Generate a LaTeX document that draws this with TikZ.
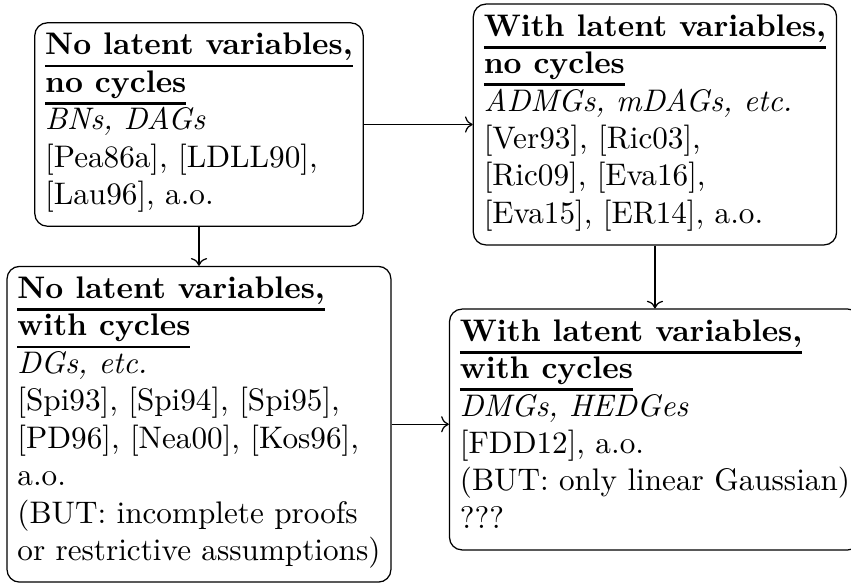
\documentclass[tikz,border=0pt]{standalone}
\usepackage{amsmath,amssymb}
\usepackage{tikz}
\usetikzlibrary{calc}
\usetikzlibrary{positioning}
\usetikzlibrary{arrows.meta,positioning}

\newlength{\boxheadwd}
\newcommand{\boxhead}[1]{\settowidth{\boxheadwd}{\textbf{#1}}%
  \rlap{\rule[-4.0pt]{\boxheadwd}{0.85pt}}\textbf{#1}}

\begin{document}
\begin{tikzpicture}[
      mybox/.style={
         rectangle,
         draw=black,
         rounded corners,
         align=left,
         font=\normalsize},
      myarrow/.style={->},
      node distance=0.439cm and 1.228cm
      ]
      \useasboundingbox (-2.242,1.403) rectangle (7.347,-5.200);

      \node[mybox] (nlnc) {\boxhead{No latent variables,}\\
        \boxhead{no cycles}\\
        \textit{BNs, DAGs}\\
        {}[Pea86a], [LDLL90],\\
        {}[Lau96], a.o.\strut};
      \node[mybox,right=of nlnc] (lnc) {\boxhead{With latent variables,}\\
        \boxhead{no cycles}\\
        \textit{ADMGs, mDAGs, etc.}\\
        {}[Ver93], [Ric03],\\
        {}[Ric09], [Eva16],\\
        {}[Eva15], [ER14], a.o.\strut};
      \node[mybox,below=of nlnc] (nlc) {\boxhead{No latent variables,}\\
        \boxhead{with cycles}\\
        \textit{DGs, etc.}\\
        {}[Spi93], [Spi94], [Spi95],\\
        {}[PD96], [Nea00], [Kos96],\\
        a.o.\\
        (BUT: incomplete proofs\\
        or restrictive assumptions)\strut};
      \node[mybox,below=0.709cm of lnc] (lc) {\boxhead{With latent variables,}\\
        \boxhead{with cycles}\\
        \textit{DMGs, HEDGes}\\
        {}[FDD12], a.o.\\
        (BUT: only linear Gaussian)\\
        ???\strut};

    \foreach \i/\j in {% start node/end node
      nlnc/lnc,
      nlnc/nlc,
      lnc/lc}
       \draw [myarrow] (\i) -- (\j);

     % keep this one level with the left box
     \draw [myarrow] (nlc.east) -- (nlc.east -| lc.west);
    \end{tikzpicture}
\end{document}
